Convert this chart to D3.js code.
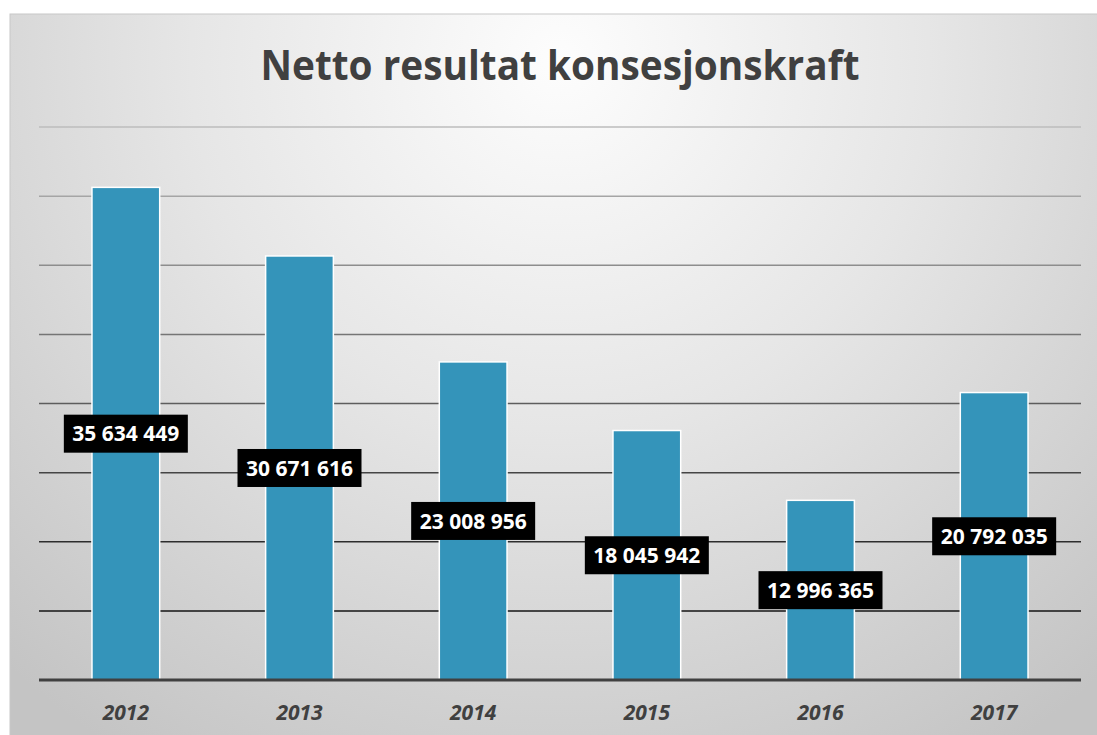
<!DOCTYPE html>
<html lang="no">
<head>
<meta charset="utf-8">
<title>Netto resultat konsesjonskraft</title>
<script src="https://d3js.org/d3.v7.min.js"></script>
<style>
  body { margin: 0; background: #fff; }
  svg { display: block; }
</style>
</head>
<body>
<script>
// data
var years = ["2012", "2013", "2014", "2015", "2016", "2017"];
var values = [35634449, 30671616, 23008956, 18045942, 12996365, 20792035];
var gridTicks = [0, 5e6, 10e6, 15e6, 20e6, 25e6, 30e6, 35e6, 40e6];
var title = "Netto resultat konsesjonskraft";

var w = 1097, h = 735;
var plot = {left: 39, right: 1081, top: 127, bottom: 680};

var svg = d3.select("body").append("svg")
    .attr("width", w)
    .attr("height", h);

// background gradient
var defs = svg.append("defs");
var grad = defs.append("radialGradient")
    .attr("id", "bg")
    .attr("gradientUnits", "userSpaceOnUse")
    .attr("cx", 560).attr("cy", 60).attr("r", 820);
grad.append("stop").attr("offset", "0").attr("stop-color", "#fdfdfd");
grad.append("stop").attr("offset", "0.45").attr("stop-color", "#e6e6e6");
grad.append("stop").attr("offset", "1").attr("stop-color", "#c4c4c4");

svg.append("rect")
    .attr("x", 10).attr("y", 14)
    .attr("width", w).attr("height", h)
    .attr("fill", "url(#bg)")
    .attr("stroke", "#c8c8c8")
    .attr("stroke-width", 1);

// scales
var x = d3.scaleBand()
    .domain(years)
    .range([plot.left, plot.right])
    .paddingInner(0.61)
    .paddingOuter(0.305);

var y = d3.scaleLinear()
    .domain([0, 40e6])
    .range([plot.bottom, plot.top]);

var gridColor = d3.scaleLinear()
    .domain([40e6, 5e6])
    .range(["#bdbdbd", "#151515"])
    .interpolate(d3.interpolateRgb);

// gridlines
svg.append("g")
    .selectAll("line")
    .data(gridTicks.filter(d => d > 0))
    .join("line")
    .attr("x1", plot.left).attr("x2", plot.right)
    .attr("y1", d => y(d)).attr("y2", d => y(d))
    .attr("stroke", d => gridColor(d))
    .attr("stroke-width", 1.5);

// bars
svg.append("g")
    .selectAll("rect")
    .data(values)
    .join("rect")
    .attr("x", (d, i) => x(years[i]))
    .attr("y", d => y(d))
    .attr("width", x.bandwidth())
    .attr("height", d => y(0) - y(d))
    .attr("fill", "#3494ba")
    .attr("stroke", "#ffffff")
    .attr("stroke-width", 1.5);

// baseline
svg.append("line")
    .attr("x1", plot.left).attr("x2", plot.right)
    .attr("y1", y(0)).attr("y2", y(0))
    .attr("stroke", "#404040")
    .attr("stroke-width", 3);

// x axis labels
var xAxis = d3.axisBottom(x).tickSize(0).tickPadding(0);
var gx = svg.append("g")
    .attr("transform", "translate(0," + y(0) + ")")
    .call(xAxis);
gx.select(".domain").remove();
gx.selectAll("text")
    .attr("y", 40)
    .attr("dy", 0)
    .attr("fill", "#404040")
    .style("font-family", "'Open Sans', sans-serif")
    .style("font-size", "21px")
    .style("font-weight", "bold")
    .style("font-style", "italic");

// data labels
var fmt = d3.formatLocale({decimal: ",", thousands: " ", grouping: [3], currency: ["", ""]}).format(",d");
var labels = svg.append("g")
    .selectAll("g")
    .data(values)
    .join("g")
    .attr("transform", (d, i) => "translate(" + (x(years[i]) + x.bandwidth() / 2) + "," + ((y(d) + y(0)) / 2) + ")");

labels.append("rect")
    .attr("x", -62).attr("y", -19)
    .attr("width", 124).attr("height", 38)
    .attr("fill", "#000");

labels.append("text")
    .attr("text-anchor", "middle")
    .attr("dy", "0.37em")
    .attr("fill", "#fff")
    .style("font-family", "'Open Sans', sans-serif")
    .style("font-size", "21px")
    .style("font-weight", "bold")
    .text(d => fmt(d));

// title
svg.append("text")
    .attr("x", 560)
    .attr("y", 80)
    .attr("text-anchor", "middle")
    .attr("fill", "#404040")
    .attr("textLength", 599)
    .attr("lengthAdjust", "spacingAndGlyphs")
    .style("font-family", "'Open Sans', sans-serif")
    .style("font-size", "42px")
    .style("font-weight", "bold")
    .text(title);
</script>
</body>
</html>
